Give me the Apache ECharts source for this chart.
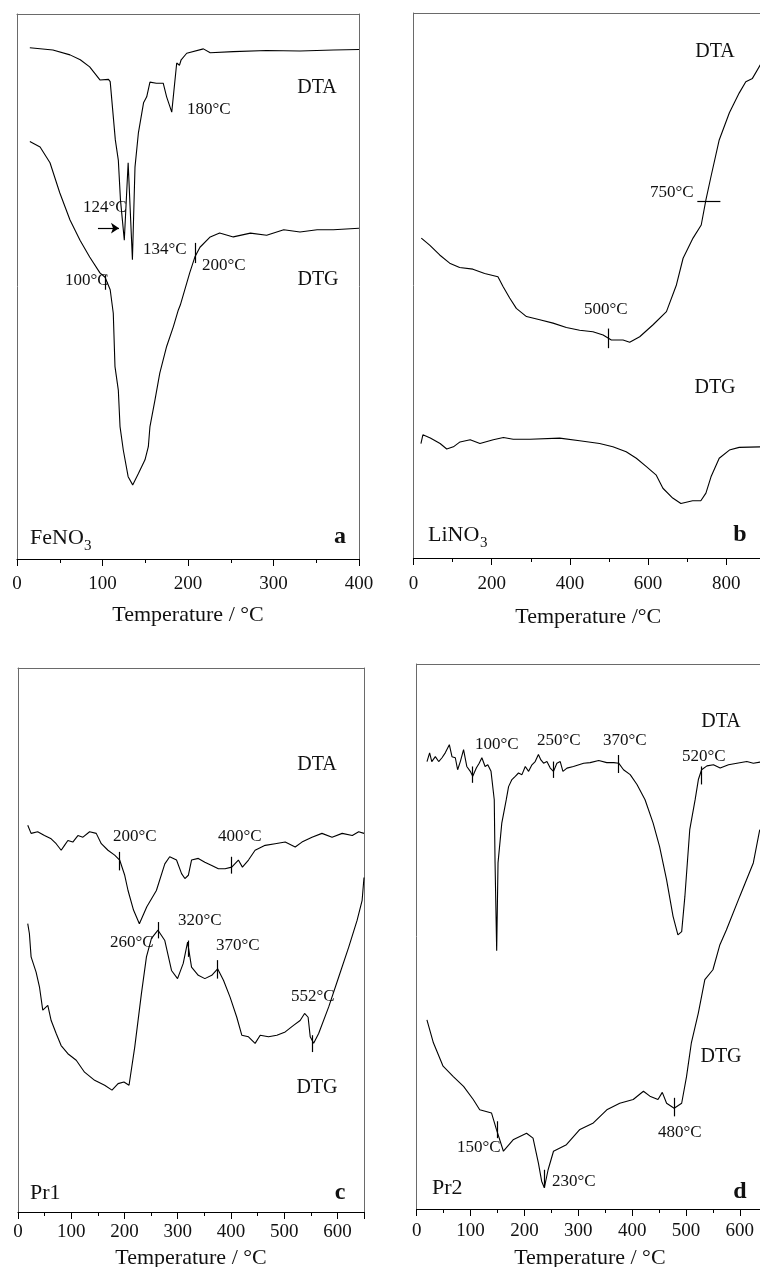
<!DOCTYPE html>
<html>
<head>
<meta charset="utf-8">
<style>
  html, body { margin: 0; padding: 0; background: #fff; }
  #chart { width: 760px; height: 1267px; }
</style>
<script src="https://cdn.jsdelivr.net/npm/echarts@6/dist/echarts.min.js"></script>
</head>
<body>
<div id="chart"></div>
<script>
(function () {
  'use strict';

  var serif = "'Liberation Serif', 'Times New Roman', serif";
  var ink = '#111';
  var frame = '#6a6a6a';

  // ========== Data (signal in arbitrary units, 0-100 of panel height) ==========
  // a: FeNO3
  var aDtaT = [15, 42, 62, 74, 85, 97, 107, 109, 115, 118.5, 121, 125.5, 130, 135, 138, 142, 148, 151.7, 155.5, 163, 171, 175, 181, 186.8, 190, 192, 198.5, 218, 226, 253, 292, 331, 370, 400];
  var aDtaV = [93.8, 93.4, 92.5, 91.6, 90.3, 87.9, 88.0, 87.6, 76.9, 73.2, 65.9, 58.5, 72.7, 54.9, 71.9, 78.2, 83.7, 84.8, 87.5, 87.3, 87.3, 84.8, 82.0, 91.0, 90.6, 91.6, 92.8, 93.6, 92.9, 93.1, 93.3, 93.2, 93.4, 93.5];
  var aDtgT = [15, 27, 38.6, 50, 62, 73.7, 85, 97, 103, 109, 112.6, 114.6, 118.5, 120.5, 124.3, 130, 135.3, 142, 149.7, 153.6, 155.5, 161.4, 167, 175, 182.8, 188.7, 191, 202, 208, 214, 226, 237, 253, 273, 292, 312, 331, 351, 370, 400];
  var aDtgV = [76.6, 75.6, 72.7, 67.2, 62.2, 58.5, 55.4, 52.5, 51.7, 49.4, 45.1, 35.3, 31.0, 24.3, 20.0, 15.1, 13.6, 15.7, 18.2, 20.6, 24.3, 29.2, 34.1, 39.0, 42.6, 45.7, 46.6, 52.5, 55.4, 57.2, 59.1, 59.8, 59.1, 59.8, 59.4, 60.4, 60.0, 60.4, 60.4, 60.7];

  // b: LiNO3
  var bDtaT = [20, 41.3, 67, 92.5, 118, 152, 182, 216, 229, 246, 263, 289, 323, 357, 391, 425, 459, 485, 506, 536, 553, 578.6, 612.8, 647, 672.5, 689.6, 715, 736, 748, 761, 782, 808, 833, 850, 867, 888];
  var bDtaV = [58.7, 57.4, 55.6, 54.1, 53.3, 53.0, 52.2, 51.6, 49.8, 47.7, 45.8, 44.3, 43.7, 43.1, 42.3, 41.8, 41.5, 40.9, 40.0, 40.0, 39.6, 40.6, 42.8, 45.2, 50.1, 55.0, 58.7, 61.1, 65.7, 70.0, 76.7, 81.7, 85.3, 87.4, 88.0, 90.6];
  var bDtgT = [19, 24, 43, 68, 85, 102, 119, 145, 170, 204, 230, 255, 298, 374, 425, 476, 510, 544, 570, 595, 621, 638, 663, 684, 714, 735, 748, 761, 782, 808, 833, 888];
  var bDtgV = [21.0, 22.6, 22.0, 21.0, 20.0, 20.4, 21.3, 21.7, 21.0, 21.7, 22.1, 21.8, 21.8, 22.0, 21.5, 21.0, 20.4, 19.5, 18.3, 16.8, 15.2, 12.8, 11.0, 10.0, 10.5, 10.5, 11.9, 14.9, 18.3, 19.8, 20.3, 20.4];

  // c: Pr1
  var cDtaT = [18.3, 24.6, 37, 49.7, 62.3, 71.7, 81.1, 87.4, 93.7, 103, 112.5, 122, 134.5, 147, 156.5, 169, 181.6, 191, 200.5, 206.7, 217, 228, 242, 260, 275.8, 285, 297.8, 307.3, 313.5, 320, 326, 338.7, 351, 364, 376.4, 389, 401.5, 414, 421.6, 433, 445.4, 464.3, 483, 502, 520.8, 533.4, 552.3, 571, 590, 609, 628, 640, 650];
  var cDtaV = [71.1, 69.6, 69.9, 69.2, 68.6, 67.7, 66.5, 67.4, 68.3, 68.0, 69.2, 68.9, 69.9, 69.6, 67.7, 66.5, 65.6, 64.7, 61.9, 59.1, 55.5, 53.0, 56.1, 59.1, 64.0, 65.3, 64.7, 62.2, 61.3, 61.9, 64.7, 65.0, 64.3, 63.7, 63.1, 63.1, 63.4, 64.7, 63.4, 64.7, 66.5, 67.4, 67.7, 68.0, 67.1, 68.0, 68.9, 69.6, 68.9, 69.6, 69.2, 69.9, 69.6];
  var cDtgT = [18.3, 21.4, 24.6, 34, 40.3, 46.5, 56, 62.3, 71.7, 81, 93.7, 109.4, 125, 144, 162.8, 176.6, 188, 199, 208.6, 219.3, 231.8, 241.3, 250.7, 263, 275.8, 288.4, 299.7, 310.4, 318.6, 326, 338.7, 351, 364, 375, 386, 398.4, 411, 420.4, 433, 445.4, 455, 470.6, 486.3, 502, 517.6, 530, 538.4, 545, 549, 555.4, 564.8, 583.7, 602.5, 621.3, 637, 646.5, 650];
  var cDtgV = [53.0, 51.2, 46.9, 44.1, 41.4, 37.1, 38.0, 35.2, 32.8, 30.6, 29.1, 27.9, 25.7, 24.2, 23.3, 22.4, 23.6, 23.9, 23.3, 30.3, 40.1, 46.9, 50.3, 51.8, 49.9, 44.4, 42.9, 45.7, 49.6, 45.0, 43.5, 42.9, 43.5, 44.7, 42.6, 39.5, 35.8, 32.5, 32.2, 31.0, 32.5, 32.2, 32.5, 33.1, 34.3, 35.2, 36.5, 35.8, 32.2, 31.0, 32.8, 37.7, 43.2, 48.7, 53.6, 57.3, 61.5];

  // d: Pr2
  var dDtaT = [19.1, 24, 28, 34.6, 40.8, 47, 53, 60.6, 65.5, 71.7, 76, 81, 87, 93, 99.5, 104, 110.7, 116, 121, 127, 132, 138, 144, 145.5, 148.5, 151, 158, 166.3, 170.6, 176.8, 183, 189, 195.4, 201.6, 207.8, 214, 220, 226, 230.6, 235.6, 241.8, 248, 254, 260.3, 266.5, 271.5, 279, 291, 310, 322, 338, 353, 366, 375, 384, 396.4, 409, 424, 439, 451, 464, 476, 485, 492, 498, 507, 517, 523, 529, 539, 551, 563.5, 579, 594.6, 613, 625, 637.6];
  var dDtaV = [82.1, 83.7, 82.1, 83.0, 82.1, 82.8, 83.7, 85.2, 83.0, 82.8, 80.6, 82.1, 84.3, 81.2, 80.3, 79.4, 80.9, 81.8, 82.8, 81.2, 81.5, 80.3, 75.1, 63.5, 47.4, 63.5, 70.8, 75.1, 77.5, 78.8, 79.4, 80.0, 79.7, 81.2, 80.3, 81.5, 82.1, 83.4, 82.4, 81.8, 82.1, 80.9, 80.3, 81.8, 82.1, 80.3, 80.9, 81.2, 81.8, 81.9, 82.3, 81.9, 81.9, 81.8, 80.6, 79.7, 77.9, 75.1, 70.8, 66.5, 60.4, 53.7, 50.3, 50.9, 57.4, 69.6, 75.1, 78.8, 80.6, 81.3, 81.5, 80.9, 81.5, 81.8, 82.1, 81.8, 82.0];
  var dDtgT = [19, 31, 49, 68, 87, 105, 117, 139, 148, 161, 179, 204, 216, 226, 232, 237, 244, 254, 278, 303, 328, 353, 377, 402, 421, 433, 448, 456, 464, 478, 492, 501, 510, 523, 535, 550, 563, 575, 600, 625, 637];
  var dDtgV = [34.7, 30.5, 26.2, 24.3, 22.5, 20.1, 18.2, 17.6, 14.6, 10.6, 12.7, 13.9, 13.0, 8.4, 5.1, 3.9, 7.2, 10.6, 11.8, 14.6, 15.8, 18.2, 19.4, 20.1, 21.6, 20.7, 20.1, 21.4, 19.4, 18.5, 19.4, 24.3, 30.5, 36.0, 42.1, 43.9, 48.5, 51.2, 57.4, 63.5, 69.6];

  // marker ticks: [temperature, low, high]
  var aTicks = [[103, 49.4, 52.1], [208, 54.3, 58.0]];
  var aArrow = [[94.7, 60.7], [119.3, 60.7]];
  var bTicksV = [[497, 38.5, 42.1]];
  var bTicksH = [[726, 785, 65.4]];
  var cTicks = [[190, 62.8, 66.2], [401, 62.2, 65.3], [263, 50.3, 53.3], [319.8, 46.9, 49.9], [375, 42.9, 46.3], [553.5, 29.4, 32.5]];
  var dTicks = [[104, 78.2, 81.2], [254, 79.1, 82.1], [375, 80.0, 83.3], [529, 77.9, 81.2], [149.6, 13.0, 16.1], [236.8, 3.9, 7.2], [478, 17.0, 20.4]];

  // ========== Helpers ==========
  function pairs(t, v) { return t.map(function (x, i) { return [x, v[i]]; }); }
  function vTicks(list) {
    return list.map(function (m) { return [{ coord: [m[0], m[1]] }, { coord: [m[0], m[2]] }]; });
  }
  function hTicks(list) {
    return list.map(function (m) { return [{ coord: [m[0], m[2]] }, { coord: [m[1], m[2]] }]; });
  }

  var panels = [
    { grid: { left: 17, top: 14, width: 342, height: 545 }, max: 400, step: 100, name: 'Temperature / \u00b0C', gap: 56, margin: 16, right: true },
    { grid: { left: 413.5, top: 13, right: -3, height: 545 }, max: 894, step: 200, name: 'Temperature /\u00b0C', gap: 59, margin: 17, right: false },
    { grid: { left: 18, top: 668, width: 346, height: 544 }, max: 650, step: 100, name: 'Temperature / \u00b0C', gap: 46, margin: 11, right: true },
    { grid: { left: 416.7, top: 664, right: -3, height: 545 }, max: 643, step: 100, name: 'Temperature / \u00b0C', gap: 49, margin: 13, right: false }
  ];

  var grids = [], xAxes = [], yAxes = [];
  panels.forEach(function (p, i) {
    p.grid.outerBoundsMode = 'none';
    p.grid.containLabel = false;
    grids.push(p.grid);
    var base = xAxes.length;
    // main bottom axis
    xAxes.push({
      type: 'value', gridIndex: i, min: 0, max: p.max, interval: p.step, position: 'bottom',
      axisLine: { onZero: false, lineStyle: { color: '#000', width: 1.2 } },
      axisTick: { length: 7, lineStyle: { color: '#000' } },
      splitLine: { show: false },
      axisLabel: {
        margin: p.margin, fontFamily: serif, fontSize: 19, color: ink,
        formatter: function (v) { return v % p.step === 0 ? String(v) : ''; }
      },
      name: p.name, nameLocation: 'middle', nameGap: p.gap,
      nameTextStyle: { fontFamily: serif, fontSize: 22, color: ink, verticalAlign: 'middle' }
    });
    // minor ticks
    xAxes.push({
      type: 'value', gridIndex: i, min: 0, max: p.max, interval: p.step / 2, position: 'bottom',
      axisLine: { show: false }, axisTick: { length: 4, lineStyle: { color: '#000' } },
      axisLabel: { show: false }, splitLine: { show: false }
    });
    // top frame
    xAxes.push({
      type: 'value', gridIndex: i, min: 0, max: p.max, position: 'top',
      axisLine: { onZero: false, lineStyle: { color: frame, width: 1 } },
      axisTick: { show: false }, axisLabel: { show: false }, splitLine: { show: false }
    });
    p.xIndex = base;
    p.yIndex = yAxes.length;
    yAxes.push({
      type: 'value', gridIndex: i, min: 0, max: 100, position: 'left',
      axisLine: { show: true, onZero: false, lineStyle: { color: frame, width: 1 } },
      axisTick: { show: false }, axisLabel: { show: false }, splitLine: { show: false }
    });
    if (p.right) {
      yAxes.push({
        type: 'value', gridIndex: i, min: 0, max: 100, position: 'right',
        axisLine: { show: true, onZero: false, lineStyle: { color: frame, width: 1 } },
        axisTick: { show: false }, axisLabel: { show: false }, splitLine: { show: false }
      });
    }
  });

  function curve(pi, t, v, marks) {
    var s = {
      type: 'line', xAxisIndex: panels[pi].xIndex, yAxisIndex: panels[pi].yIndex,
      data: pairs(t, v), showSymbol: false, symbol: 'none', smooth: false,
      lineStyle: { color: '#000', width: 1.1 }, silent: true
    };
    if (marks) s.markLine = marks;
    return s;
  }
  function tickMarks(data, arrow) {
    return {
      silent: true, animation: false,
      symbol: arrow ? ['none', 'arrow'] : 'none', symbolSize: 8,
      label: { show: false },
      lineStyle: { color: '#000', width: 1.2, type: 'solid' },
      data: data
    };
  }

  var series = [
    curve(0, aDtaT, aDtaV, tickMarks([[{ coord: aArrow[0] }, { coord: aArrow[1] }]], true)),
    curve(0, aDtgT, aDtgV, tickMarks(vTicks(aTicks))),
    curve(1, bDtaT, bDtaV, tickMarks(vTicks(bTicksV).concat(hTicks(bTicksH)))),
    curve(1, bDtgT, bDtgV),
    curve(2, cDtaT, cDtaV, tickMarks(vTicks(cTicks.slice(0, 2)))),
    curve(2, cDtgT, cDtgV, tickMarks(vTicks(cTicks.slice(2)))),
    curve(3, dDtaT, dDtaV, tickMarks(vTicks(dTicks.slice(0, 4)))),
    curve(3, dDtgT, dDtgV, tickMarks(vTicks(dTicks.slice(4))))
  ];

  // ========== Text annotations: [text, x, y, align, size, weight] ==========
  var texts = [
    ['DTA', 317, 88, 'center', 20], ['180\u00b0C', 187, 110, 'left', 17], ['124\u00b0C', 83, 208, 'left', 17],
    ['134\u00b0C', 143, 250, 'left', 17], ['200\u00b0C', 202, 266, 'left', 17], ['100\u00b0C', 65, 281, 'left', 17],
    ['DTG', 318, 280, 'center', 20], ['FeNO', 30, 538, 'left', 22], ['3', 84, 546, 'left', 15], ['a', 340, 537, 'center', 24, 'bold'],

    ['DTA', 715, 52, 'center', 20], ['750\u00b0C', 650, 193, 'left', 17], ['500\u00b0C', 584, 310, 'left', 17],
    ['DTG', 715, 388, 'center', 20], ['LiNO', 428, 535, 'left', 22], ['3', 480, 543, 'left', 15], ['b', 740, 535, 'center', 24, 'bold'],

    ['DTA', 317, 765, 'center', 20], ['200\u00b0C', 113, 837, 'left', 17], ['400\u00b0C', 218, 837, 'left', 17],
    ['320\u00b0C', 178, 921, 'left', 17], ['260\u00b0C', 110, 943, 'left', 17], ['370\u00b0C', 216, 946, 'left', 17],
    ['552\u00b0C', 291, 997, 'left', 17], ['DTG', 317, 1088, 'center', 20], ['Pr1', 30, 1193, 'left', 22],
    ['c', 340, 1193, 'center', 24, 'bold'],

    ['DTA', 721, 722, 'center', 20], ['100\u00b0C', 475, 745, 'left', 17], ['250\u00b0C', 537, 741, 'left', 17],
    ['370\u00b0C', 603, 741, 'left', 17], ['520\u00b0C', 682, 757, 'left', 17], ['DTG', 721, 1057, 'center', 20],
    ['150\u00b0C', 457, 1148, 'left', 17], ['230\u00b0C', 552, 1182, 'left', 17], ['480\u00b0C', 658, 1133, 'left', 17],
    ['Pr2', 432, 1188, 'left', 22], ['d', 740, 1192, 'center', 24, 'bold']
  ];

  var graphics = texts.map(function (t) {
    return {
      type: 'text', x: t[1], y: t[2], silent: true,
      style: {
        text: t[0], fill: ink, align: t[3], verticalAlign: 'middle',
        font: (t[5] || 'normal') + ' ' + t[4] + 'px ' + serif
      }
    };
  });

  var chart = echarts.init(document.getElementById('chart'), null, { renderer: 'canvas' });
  chart.setOption({
    animation: false,
    backgroundColor: '#fff',
    grid: grids,
    xAxis: xAxes,
    yAxis: yAxes,
    series: series,
    graphic: graphics
  });
  window.addEventListener('resize', function () { chart.resize(); });
})();
</script>
</body>
</html>
